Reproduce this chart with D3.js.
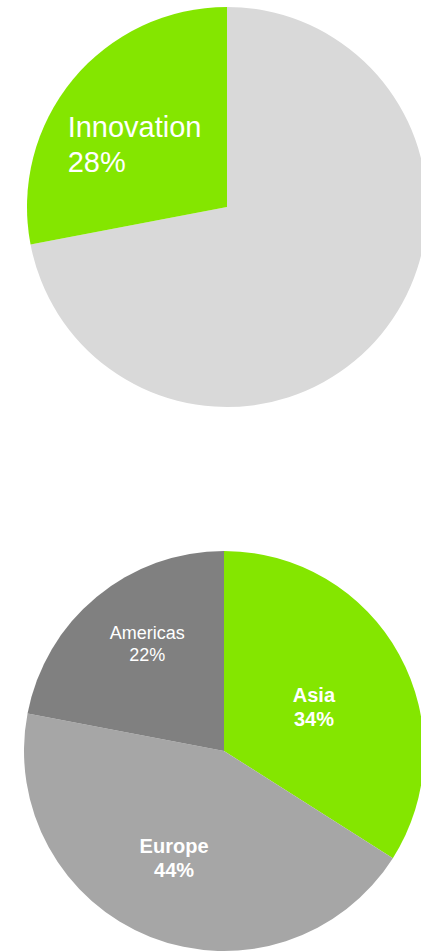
<!DOCTYPE html>
<html>
<head>
<meta charset="utf-8">
<script src="https://cdn.jsdelivr.net/npm/d3@7"></script>
<style>
  body { margin: 0; background: #fff; }
  text { font-family: "Liberation Sans", Arial, sans-serif; fill: #fff; }
</style>
</head>
<body>
<div id="chart"></div>
<script>
// top pie: share of innovation
var topNames = ["Other", "Innovation"];
var topValues = [72, 28];
var topColors = ["#d9d9d9", "#84e600"];

// bottom pie: regions
var regionNames = ["Asia", "Europe", "Americas"];
var regionValues = [34, 44, 22];
var regionColors = ["#84e600", "#a6a6a6", "#808080"];

var svg = d3.select("#chart")
            .append("svg")
            .attr("width", 421)
            .attr("height", 951)

var radius = 200;
var pie = d3.pie().sort(null);
var arc = d3.arc().innerRadius(0).outerRadius(radius);

// ---- top pie
var g1 = svg.append("g")
            .attr("transform", "translate(227,207)")

var topArcs = pie(topValues);

g1.selectAll("path")
  .data(topArcs)
  .enter()
  .append("path")
  .attr("d", arc)
  .style("fill", function(d, i) { return topColors[i]; })

// label sits in the green slice, left aligned
var innov = topArcs[1];
var c1 = d3.arc().innerRadius(0).outerRadius(radius * 0.9).centroid(innov);
var t1 = g1.append("text")
           .attr("x", c1[0] - 90)
           .attr("y", c1[1] - 13)
           .style("font-size", "29px")
t1.append("tspan").text(topNames[1])
t1.append("tspan")
  .attr("x", c1[0] - 90)
  .attr("dy", 35)
  .text(topValues[1] + "%")

// ---- bottom pie
var g2 = svg.append("g")
            .attr("transform", "translate(224,751)")

var regionArcs = pie(regionValues);

g2.selectAll("path")
  .data(regionArcs)
  .enter()
  .append("path")
  .attr("d", arc)
  .style("fill", function(d, i) { return regionColors[i]; })

// label distance from centre and small angle nudge, per slice
var labelR = [100, 118, 132];
var labelShift = [0.05, 0.06, 0.07];
var labelBold = [true, true, false];

regionArcs.forEach(function(d, i) {
    var a = (d.startAngle + d.endAngle) / 2 + labelShift[i];
    var x = Math.sin(a) * labelR[i];
    var y = -Math.cos(a) * labelR[i];
    var size = labelBold[i] ? 20 : 18;
    var t = g2.append("text")
              .attr("text-anchor", "middle")
              .attr("x", x)
              .attr("y", y - size * 0.6 + size * 0.36)
              .style("font-size", size + "px")
              .style("font-weight", labelBold[i] ? "bold" : "normal")
    t.append("tspan").text(regionNames[i])
    t.append("tspan")
     .attr("x", x)
     .attr("dy", size * 1.2)
     .text(regionValues[i] + "%")
});
</script>
</body>
</html>
